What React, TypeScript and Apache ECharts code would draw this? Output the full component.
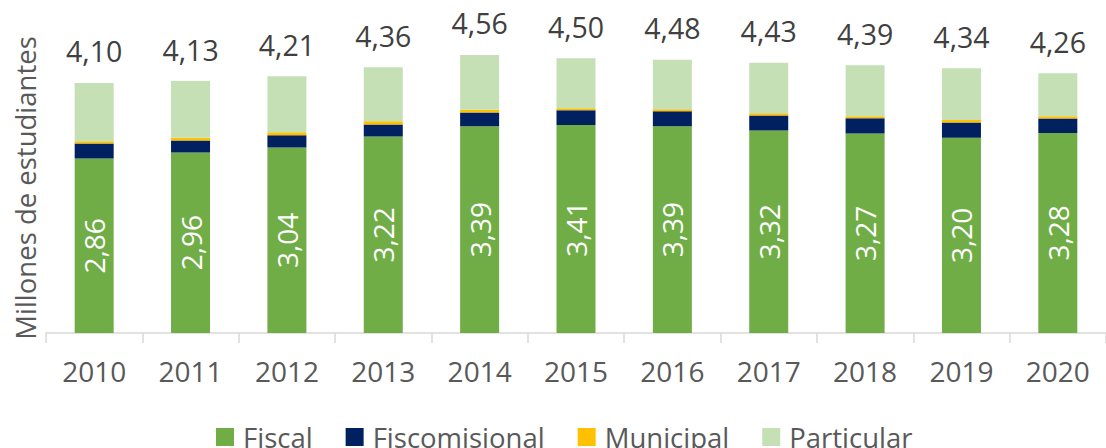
import React, { useEffect, useRef } from "react";
import * as echarts from "echarts";

const years = ["2010", "2011", "2012", "2013", "2014", "2015", "2016", "2017", "2018", "2019", "2020"];
const fiscal = [2.86, 2.96, 3.04, 3.22, 3.39, 3.41, 3.39, 3.32, 3.27, 3.2, 3.28];
const fiscomisional = [0.246, 0.197, 0.2, 0.2, 0.224, 0.24, 0.246, 0.246, 0.25, 0.25, 0.235];
const municipal = [0.038, 0.044, 0.05, 0.05, 0.044, 0.033, 0.033, 0.038, 0.033, 0.04, 0.038];
const particular = [0.956, 0.93, 0.92, 0.885, 0.9, 0.82, 0.81, 0.826, 0.837, 0.85, 0.707];
const totals = [4.1, 4.13, 4.21, 4.36, 4.56, 4.5, 4.48, 4.43, 4.39, 4.34, 4.26];

const FONT = "'Open Sans', 'Noto Sans', sans-serif";
const fmt = (v: number) => v.toFixed(2).replace(".", ",");

export default function App() {
  const ref = useRef<HTMLDivElement>(null);
  useEffect(() => {
    if (!ref.current) return;
    const chart = echarts.init(ref.current, undefined, { renderer: "svg" });
    const barWidth = 39;
    chart.setOption({
      animation: false,
      textStyle: { fontFamily: FONT },
      grid: { left: 46, top: 28, width: 1072, height: 305, containLabel: false },
      legend: {
        left: 211,
        top: 418,
        itemWidth: 18,
        itemHeight: 18,
        itemGap: 33,
        icon: "rect",
        textStyle: { fontSize: 27.5, color: "#595959", fontFamily: FONT, padding: [0, 0, 0, 4] },
        data: ["Fiscal", "Fiscomisional", "Municipal", "Particular"],
      },
      graphic: [
        {
          type: "text",
          x: 25,
          y: 188,
          rotation: Math.PI / 2,
          style: {
            text: "Millones de estudiantes",
            fontSize: 27.5,
            fontFamily: FONT,
            fill: "#595959",
            align: "center",
            verticalAlign: "middle",
          },
        },
      ],
      xAxis: {
        type: "category",
        data: years,
        axisLine: { lineStyle: { color: "#D9D9D9", width: 1.5 } },
        axisTick: { show: true, length: 10, lineStyle: { color: "#D9D9D9", width: 1.5 } },
        axisLabel: { fontSize: 28, color: "#595959", margin: 24, fontFamily: FONT },
      },
      yAxis: {
        type: "value",
        min: 0,
        max: 5,
        show: true,
        axisLine: { show: false },
        axisTick: { show: false },
        axisLabel: { show: false },
        splitLine: { show: false },
      },
      series: [
        {
          name: "Fiscal",
          type: "bar",
          stack: "t",
          barWidth,
          data: fiscal,
          itemStyle: { color: "#70AD47" },
          label: {
            show: true,
            position: "inside",
            rotate: 90,
            color: "#FFFFFF",
            fontSize: 28,
            fontFamily: FONT,
            formatter: (p: any) => fmt(p.value),
          },
        },
        {
          name: "Fiscomisional",
          type: "bar",
          stack: "t",
          barWidth,
          data: fiscomisional,
          itemStyle: { color: "#002060" },
        },
        {
          name: "Municipal",
          type: "bar",
          stack: "t",
          barWidth,
          data: municipal,
          itemStyle: { color: "#FFC000" },
        },
        {
          name: "Particular",
          type: "bar",
          stack: "t",
          barWidth,
          data: particular,
          itemStyle: { color: "#C5E0B4" },
          label: {
            show: true,
            position: "top",
            distance: 17,
            color: "#404040",
            fontSize: 28.5,
            fontFamily: FONT,
            formatter: (p: any) => fmt(totals[p.dataIndex]),
          },
        },
      ],
    });
    return () => chart.dispose();
  }, []);
  return (
    <div
      ref={ref}
      style={{ position: "fixed", left: 0, top: 0, width: 1106, height: 448, background: "#fff" }}
    />
  );
}
